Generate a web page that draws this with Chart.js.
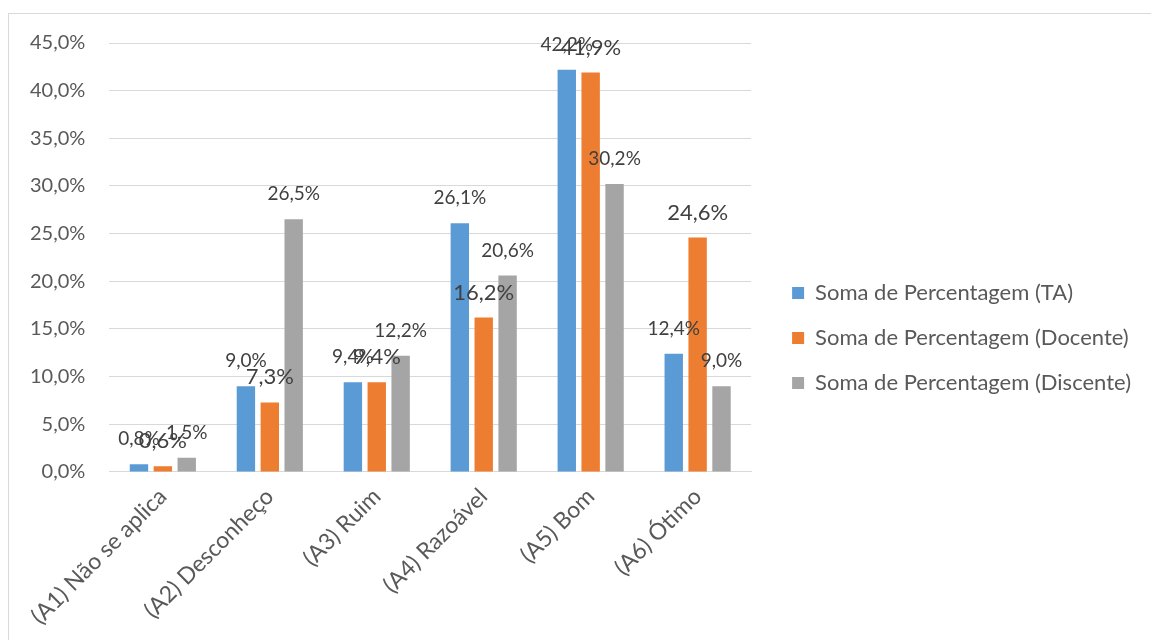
<!DOCTYPE html>
<html>
<head>
<meta charset="utf-8">
<script src="https://cdn.jsdelivr.net/npm/chart.js@4/dist/chart.umd.min.js"></script>
<style>
  html, body { margin: 0; padding: 0; background: #fff; }
  #chart { display: block; }
</style>
</head>
<body>
<canvas id="chart" width="1151" height="640"></canvas>
<script>
var categories = [
  "(A1) Não se aplica",
  "(A2) Desconheço",
  "(A3) Ruim",
  "(A4) Razoável",
  "(A5) Bom",
  "(A6) Ótimo",
];
var seriesNames = [
  "Soma de Percentagem (TA)",
  "Soma de Percentagem (Docente)",
  "Soma de Percentagem (Discente)",
];
var taValues = [0.8, 9.0, 9.4, 26.1, 42.2, 12.4];
var docenteValues = [0.6, 7.3, 9.4, 16.2, 41.9, 24.6];
var discenteValues = [1.5, 26.5, 12.2, 20.6, 30.2, 9.0];
var yTicks = [0, 5, 10, 15, 20, 25, 30, 35, 40, 45];

var fontFamily = "Lato, 'Open Sans', sans-serif";
var textColor = "#595959";

function pct(v) {
  return v.toFixed(1).replace(".", ",") + "%";
}

// thin grey frame round the chart
var framePlugin = {
  id: "frame",
  beforeDraw: function (chart) {
    var ctx = chart.ctx;
    ctx.save();
    ctx.fillStyle = "#ffffff";
    ctx.fillRect(0, 0, chart.width, chart.height);
    ctx.strokeStyle = "#d9d9d9";
    ctx.lineWidth = 1;
    ctx.strokeRect(8.5, 13.5, 1300, 800);
    ctx.restore();
  },
};

// value labels above each bar
var labelPlugin = {
  id: "barLabels",
  afterDatasetsDraw: function (chart) {
    var ctx = chart.ctx;
    ctx.save();
    ctx.textAlign = "center";
    ctx.textBaseline = "middle";
    ctx.fillStyle = "#404040";
    chart.data.datasets.forEach(function (ds, i) {
      var meta = chart.getDatasetMeta(i);
      ctx.font = (i === 1 ? 22 : 19) + "px " + fontFamily;
      meta.data.forEach(function (bar, j) {
        ctx.fillText(pct(ds.data[j]), bar.x, bar.y - 25);
      });
    });
    ctx.restore();
  },
};

var canvasElement = document.getElementById("chart");
var config = {
  type: "bar",
  data: {
    labels: categories,
    datasets: [
      { label: seriesNames[0], data: taValues, backgroundColor: "#5b9bd5" },
      { label: seriesNames[1], data: docenteValues, backgroundColor: "#ed7d31" },
      { label: seriesNames[2], data: discenteValues, backgroundColor: "#a5a5a5" },
    ],
  },
  options: {
    responsive: false,
    animation: false,
    layout: { padding: { top: 43, left: 6, right: 10, bottom: 7 } },
    datasets: {
      bar: { categoryPercentage: 0.67, barPercentage: 0.77 },
    },
    plugins: {
      tooltip: { enabled: false },
      legend: {
        position: "right",
        maxWidth: 450,
        labels: {
          boxWidth: 12,
          boxHeight: 12,
          padding: 23,
          color: textColor,
          font: { family: fontFamily, size: 22 },
        },
      },
    },
    scales: {
      x: {
        grid: { display: false },
        border: { color: "#d9d9d9" },
        ticks: {
          color: textColor,
          font: { family: fontFamily, size: 23 },
          minRotation: 45,
          maxRotation: 45,
          autoSkip: false,
        },
      },
      y: {
        min: 0,
        max: 45,
        afterBuildTicks: function (axis) {
          axis.ticks = yTicks.map(function (v) { return { value: v }; });
        },
        grid: { color: "#d9d9d9", drawTicks: false },
        border: { display: false },
        ticks: {
          padding: 24,
          color: textColor,
          font: { family: fontFamily, size: 20 },
          callback: function (v) { return pct(v); },
        },
      },
      // empty axis, only keeps a gap between the bars and the legend
      gap: {
        position: "right",
        min: 0,
        max: 45,
        grid: { display: false },
        border: { display: false },
        ticks: { display: false },
        afterFit: function (axis) { axis.width = 18; },
      },
    },
  },
  plugins: [framePlugin, labelPlugin],
};
var barChart = new Chart(canvasElement, config);
</script>
</body>
</html>
